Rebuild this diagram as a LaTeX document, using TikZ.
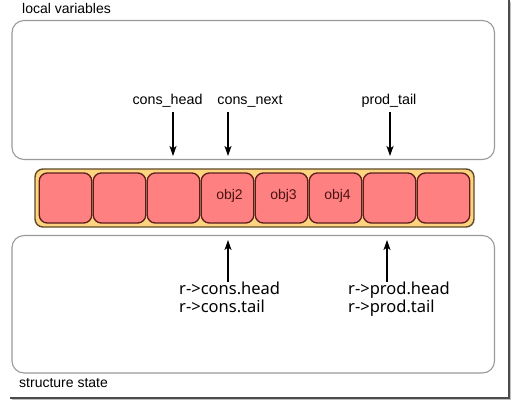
\documentclass[tikz,border=0pt]{standalone}
\usepackage{fontspec}
\setmainfont{Liberation Sans}
\newfontfamily\labfont{Noto Sans}
\usetikzlibrary{arrows.meta,calc}
\definecolor{cellfill}{HTML}{FF8080}
\definecolor{celldraw}{HTML}{5A1E1E}
\definecolor{qfill}{HTML}{FFD47F}
\definecolor{qdraw}{HTML}{5E4A28}
\definecolor{boxdraw}{HTML}{9A9A9A}
\definecolor{objtext}{HTML}{4A1212}
\begin{document}
\begin{tikzpicture}[x=1pt,y=-1pt,
  areabox/.style={draw=boxdraw,line width=1.1pt,rounded corners=12pt},
  queuebox/.style={draw=qdraw,fill=qfill,line width=1.4pt,rounded corners=8pt},
  cellbox/.style={draw=celldraw,fill=cellfill,line width=1.3pt,rounded corners=8pt,
    minimum width=52.5pt,minimum height=50pt,inner sep=0pt,anchor=center},
  objlabel/.style={text=objtext,font=\fontsize{14}{16}\selectfont},
  varlabel/.style={font=\fontsize{14.3}{16}\selectfont,inner sep=0pt,anchor=base},
  statelabel/.style={font=\labfont\fontsize{16.5}{18.7}\selectfont,inner sep=0pt,anchor=base west},
  titlelabel/.style={font=\fontsize{14}{16}\selectfont,inner sep=0pt,anchor=base west},
  ptr/.style={-{Stealth[length=10pt,width=7pt,inset=2.5pt]},line width=1.3pt,black},
  ]
\useasboundingbox (0,0) rectangle (511,400);
\fill[white] (0,0) rectangle (511,400);
% frame shadow
\draw[line width=2pt,black!70] (508.5,0) -- (508.5,397.5) -- (10,397.5);
\draw[line width=0.8pt,black!25] (510.5,2) -- (510.5,399.5) -- (12,399.5);
% areas
\draw[areabox] (12,20.5) rectangle (494.5,159.5);
\draw[areabox] (12,235.5) rectangle (494.5,373);
\node[titlelabel] (lv) at (22,13.5) {local variables};
\node[titlelabel] (ss) at (19,387.5) {structure state};
% queue
\draw[queuebox] (35,169) rectangle (474,227);
\foreach \i/\t in {1/,2/,3/,4/obj2,5/obj3,6/obj4,7/,8/}{
  \node[cellbox] (c\i) at ({65.5+54*(\i-1)},198) {};
  \node[objlabel] (t\i) at ({65.5+54*(\i-1)+2},196) {\t};
}
% local variable pointers
\node[varlabel] (ch) at (167.5,104.5) {cons\_head};
\node[varlabel] (cn) at (250,104.5) {cons\_next};
\node[varlabel] (pt) at (389,104.5) {prod\_tail};
\coordinate (chs) at (173,112);
\coordinate (che) at (173,156);
\coordinate (cns) at (228,112);
\coordinate (cne) at (228,156);
\coordinate (pts) at (390,112);
\coordinate (pte) at (390,156);
\draw[ptr] (chs) -- (che);
\draw[ptr] (cns) -- (cne);
\draw[ptr] (pts) -- (pte);
% structure state pointers
\node[statelabel] (rch) at (179,294) {r->cons.head};
\node[statelabel] (rct) at (179,312.7) {r->cons.tail};
\node[statelabel] (rph) at (348,294) {r->prod.head};
\node[statelabel] (rpt) at (348,312.7) {r->prod.tail};
\coordinate (cs) at (228,282);
\coordinate (ce) at (228,240);
\coordinate (ps) at (387,282);
\coordinate (pe) at (387,240);
\draw[ptr] (cs) -- (ce);
\draw[ptr] (ps) -- (pe);
\end{tikzpicture}
\end{document}
